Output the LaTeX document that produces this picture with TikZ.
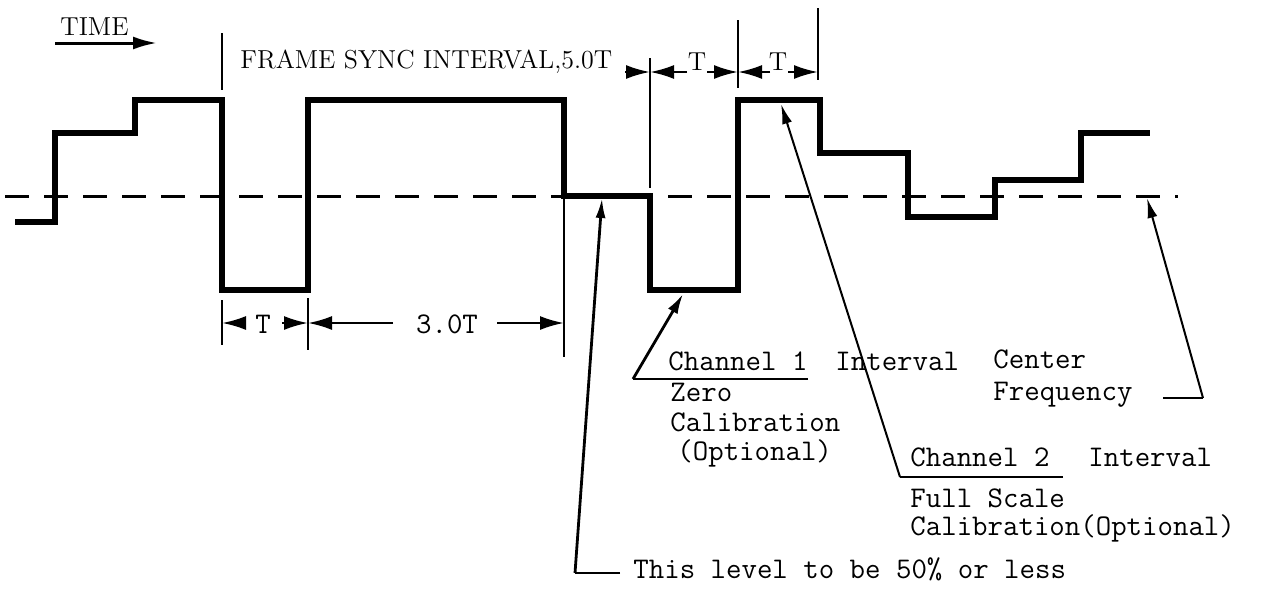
\documentclass[tikz,border=0pt]{standalone}
\usetikzlibrary{arrows.meta}
\begin{document}
\begin{tikzpicture}[x=0.5pt,y=-0.5pt,
  wave/.style={line width=2.6pt, line join=miter},
  baseline50/.style={line width=1.5pt, dash pattern=on 12pt off 7.5pt},
  dimline/.style={line width=1.2pt},
  dimarrow/.style={line width=1.2pt, -{Latex[length=12pt,width=7pt]}},
  leadline/.style={line width=1pt},
  leadarrow/.style={line width=1pt, -{Latex[length=10pt,width=5pt]}},
  tt/.style={font=\fontsize{15}{18}\selectfont\ttfamily, inner sep=0pt, anchor=base west},
  ttc/.style={font=\fontsize{15}{18}\selectfont\ttfamily, inner sep=0pt, anchor=base},
  rmtxt/.style={font=\fontsize{13}{15}\selectfont\rmfamily, inner sep=0pt, anchor=base west},
  rmc/.style={font=\fontsize{13}{15}\selectfont\rmfamily, inner sep=0pt, anchor=base},
]
\useasboundingbox (0,0) rectangle (1262,594);

% 50% reference line
\coordinate (bl) at (5,196);
\coordinate (br) at (1178,196);
\draw[baseline50] (bl) -- (br);

% waveform
\draw[wave] (15,222) -- (55,222) -- (55,133) -- (135,133) -- (135,100) -- (222,100)
  -- (222,290) -- (308,290) -- (308,100) -- (564,100) -- (564,196) -- (650,196)
  -- (650,290) -- (738,290) -- (738,100) -- (820,100) -- (820,153) -- (908,153)
  -- (908,217) -- (995,217) -- (995,180) -- (1081,180) -- (1081,133) -- (1150,133);

% TIME
\node[rmtxt] (time) at (60,35) {TIME};
\coordinate (timeA) at (55,43);
\coordinate (timeB) at (157,43);
\draw[line width=1.5pt, -{Latex[length=12pt,width=6.5pt]}] (timeA) -- (timeB);

% frame sync
\draw[dimline] (222,33) -- (222,90);
\node[rmtxt] (fsi) at (240,68) {FRAME SYNC INTERVAL,5.0T};

% top dimension marks
\coordinate (m1t) at (650,58);  \coordinate (m1b) at (650,188);
\coordinate (m2t) at (738,20);  \coordinate (m2b) at (738,88);
\coordinate (m3t) at (818,8);   \coordinate (m3b) at (818,80);
\draw[dimline] (m1t) -- (m1b);
\draw[dimline] (m2t) -- (m2b);
\draw[dimline] (m3t) -- (m3b);
\coordinate (a1) at (650,72);
\coordinate (a2) at (738,72);
\coordinate (a3) at (818,72);
\draw[dimarrow] (625,72) -- (a1);
\draw[dimarrow] (687,72) -- (a1);
\node[rmc] (tA) at (697,70) {T};
\draw[dimarrow] (707,72) -- (a2);
\draw[dimarrow] (770,72) -- (a2);
\node[rmc] (tB) at (778,70) {T};
\draw[dimarrow] (788,72) -- (a3);

% bottom dimension marks
\draw[dimline] (222,300) -- (222,345);
\draw[dimline] (308,298) -- (308,350);
\draw[dimline] (564,196) -- (564,357);
\coordinate (b1) at (222,323);
\coordinate (b2) at (308,323);
\coordinate (b3) at (564,323);
\draw[dimarrow] (245,323) -- (b1);
\node[ttc] (tC) at (263,333) {T};
\draw[dimarrow] (282,323) -- (b2);
\draw[dimarrow] (393,323) -- (b2);
\node[ttc] (t3) at (447,333) {3.0T};
\draw[dimarrow] (497,323) -- (b3);

% Channel 1 label
\node[tt] (ch1) at (668,370) {Channel 1};
\node[tt] (int1) at (835,370) {Interval};
\node[tt] (zero) at (670,401) {Zero};
\node[tt] (cal1) at (670,431) {Calibration};
\node[tt] (opt1) at (677,460) {(Optional)};
\coordinate (c1u) at (633,379);
\coordinate (c1e) at (808,379);
\coordinate (c1t) at (683,294);
\draw[leadline] (c1e) -- (c1u);
\draw[line width=1.4pt, -{Latex[length=10pt,width=5.5pt]}] (c1u) -- (c1t);

% Center frequency label
\node[tt] (cen) at (993,368) {Center};
\node[tt] (freq) at (993,400) {Frequency};
\coordinate (cfa) at (1163,398);
\coordinate (cfb) at (1203,398);
\coordinate (cft) at (1147,198);
\draw[line width=1.4pt] (cfa) -- (cfb);
\draw[leadarrow] (cfb) -- (cft);

% Channel 2 label
\node[tt] (ch2) at (910,466) {Channel 2};
\node[tt] (int2) at (1088,466) {Interval};
\node[tt] (fs) at (910,507) {Full Scale};
\node[tt] (cal2) at (910,535) {Calibration(Optional)};
\coordinate (c2u) at (900,477);
\coordinate (c2e) at (1063,477);
\coordinate (c2t) at (781,104);
\draw[leadline] (c2e) -- (c2u);
\draw[leadarrow] (c2u) -- (c2t);

% 50% level label
\node[tt] (lvl) at (633,578) {This level to be 50\% or less};
\coordinate (la) at (620,573);
\coordinate (lb) at (575,573);
\coordinate (lt) at (602,198);
\draw[leadline] (la) -- (lb);
\draw[line width=1.4pt, -{Latex[length=10pt,width=5pt]}] (lb) -- (lt);
\end{tikzpicture}
\end{document}
